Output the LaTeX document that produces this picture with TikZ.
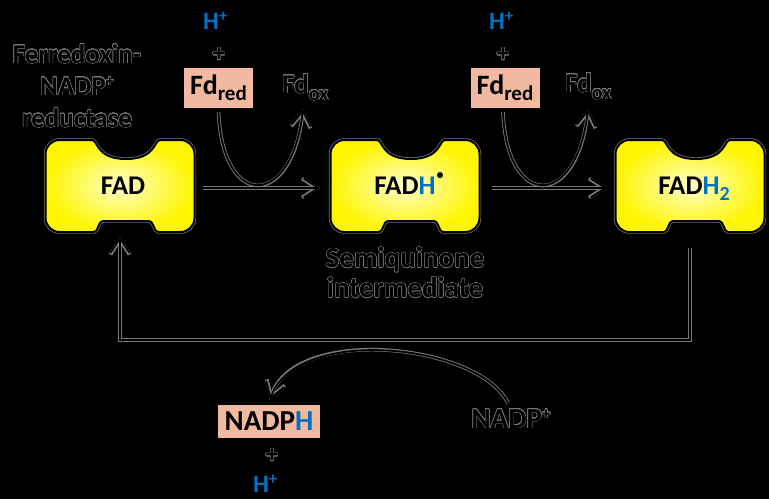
\documentclass[tikz,border=0pt]{standalone}
\usepackage{fontspec}
\setmainfont{Carlito}
\usepackage[copies]{contour}
\usetikzlibrary{arrows.meta,calc}
\definecolor{halocol}{gray}{0.47}
\definecolor{hblue}{RGB}{0,112,192}
\definecolor{salmon}{RGB}{241,186,160}
\definecolor{yelin}{RGB}{255,255,200}
\definecolor{yelout}{RGB}{255,245,0}
\contourlength{0.45pt}
\contournumber{20}
\newcommand{\haloT}[1]{\contour{halocol}{#1}}
\newcommand{\fsz}[1]{\fontsize{#1}{#1}\selectfont}
\tikzset{
  fadshape/.pic={
    \shade[inner color=yelin, outer color=yelout,
           preaction={draw=halocol, line width=3.4pt},
           draw=black, line width=2pt, line join=round]
      (-60.5,-46) -- (-28,-46)
      .. controls (-22,-46) and (-24,-27) .. (6,-27)
      .. controls (36,-27) and (34,-46) .. (40,-46)
      -- (60.5,-46) .. controls (68.2,-46) and (74.5,-39.7) .. (74.5,-32)
      -- (74.5,32) .. controls (74.5,39.7) and (68.2,46) .. (60.5,46)
      -- (38,46) .. controls (33,46) and (35,35) .. (28,35)
      -- (-16,35) .. controls (-23,35) and (-21,46) .. (-26,46)
      -- (-60.5,46) .. controls (-68.2,46) and (-74.5,39.7) .. (-74.5,32)
      -- (-74.5,-32) .. controls (-74.5,-39.7) and (-68.2,-46) .. (-60.5,-46)
      -- cycle;
  }
}
\begin{document}
\begin{tikzpicture}[x=1pt,y=-1pt,
  lineH/.style={preaction={draw=halocol, line width=3.6pt}, draw=black, line width=1.8pt},
  arr/.style={lineH, -{Straight Barb[length=15pt,width=19pt]}},
  lab/.style={inner sep=0pt, font=\bfseries\fsz{27}},
  boxnode/.style={minimum width=149pt, minimum height=92pt, inner sep=0pt,
                  font=\bfseries\fsz{27}},
  fdbox/.style={fill=salmon, inner sep=0pt, minimum width=69pt, minimum height=40pt,
                font=\bfseries\fsz{28}},
  hplus/.style={inner sep=0pt, text=hblue, font=\bfseries\fsz{25}},
  plusT/.style={inner sep=0pt, font=\bfseries\fsz{25}},
]
\fill[black] (0,0) rectangle (769,499);
\useasboundingbox (0,0) rectangle (769,499);

% enzyme boxes
\pic at (120,186) {fadshape};
\pic at (405,186) {fadshape};
\pic at (690,186) {fadshape};
\node[boxnode] (fad) at (120,186) {\hspace*{6pt}FAD};
\node[boxnode] (fadh) at (405,186) {FAD\textcolor{hblue}{H}\rlap{\hspace{1pt}\raisebox{15pt}[0pt][0pt]{\fsz{14}\textbullet}}};
\node[boxnode] (fadh2) at (690,186) {\hspace*{8pt}FAD\textcolor{hblue}{H\raisebox{-6pt}[0pt][0pt]{\fsz{20}2}}};

% labels
\node[lab, anchor=north, align=center, font=\bfseries\fontsize{27}{32}\selectfont] (fnr) at (77,44)
  {\haloT{Ferredoxin-}\\\haloT{NADP\raisebox{9pt}{\fsz{16}+}}\\\haloT{reductase}};
\node[lab, anchor=north, align=center, font=\bfseries\fontsize{29}{30}\selectfont] (semi) at (405,247)
  {\haloT{Semiquinone}\\\haloT{intermediate}};

% ferredoxin inputs
\node[hplus, anchor=base west] (h1) at (203,29) {H\raisebox{8pt}{\fsz{17}+}};
\node[hplus, anchor=base west] (h2) at (489,29) {H\raisebox{8pt}{\fsz{17}+}};
\node[plusT] (p1) at (219,55) {\haloT{+}};
\node[plusT] (p2) at (503,55) {\haloT{+}};
\node[fdbox] (fdr1) at (218.5,88) {Fd\raisebox{-6pt}{\fsz{21}red}};
\node[fdbox] (fdr2) at (505,88) {Fd\raisebox{-6pt}{\fsz{21}red}};
\node[lab, anchor=base west] (fdox1) at (282,93) {\haloT{Fd\raisebox{-7pt}{\fsz{20}ox}}};
\node[lab, anchor=base west] (fdox2) at (565,92) {\haloT{Fd\raisebox{-7pt}{\fsz{20}ox}}};
\coordinate (c1) at ($(fdox1.base west)+(21,16)$);
\coordinate (c2) at ($(fdox2.base west)+(23,17)$);

% NADPH side
\node[fdbox, minimum width=102pt, minimum height=33pt, font=\bfseries\fsz{29}] (nadph) at (269,421.5)
  {NADP\textcolor{hblue}{H}};
\node[plusT] (p3) at (272,456) {\haloT{+}};
\node[hplus, anchor=base west] (h3) at (253,492) {H\raisebox{8pt}{\fsz{17}+}};
\node[lab, anchor=base, font=\bfseries\fsz{29}] (nadp) at (511,428)
  {\haloT{NADP\raisebox{9pt}{\fsz{17}+}}};

% connectors
\draw[arr] ($(fad.east)+(8.5,2)$) -- ($(fadh.west)+(-10,2)$);
\draw[arr] ($(fadh.east)+(12,2)$) -- ($(fadh2.west)+(-8,2)$);
\draw[arr] ($(fdr1.south)+(0,4)$) .. controls +(4,98) and +(-11,100) .. (c1);
\draw[arr] ($(fdr2.south)+(-2,4)$) .. controls +(4,98) and +(-11,100) .. (c2);
\draw[arr, shorten <=16pt, shorten >=4pt] (fadh2.south) -- ++(0,108) -| (fad.south);
\draw[arr] ($(nadp.north)+(-3,-6)$) .. controls +(-30,-60) and +(25,-75) .. ($(nadph.north)+(1,-5)$);
\end{tikzpicture}
\end{document}
